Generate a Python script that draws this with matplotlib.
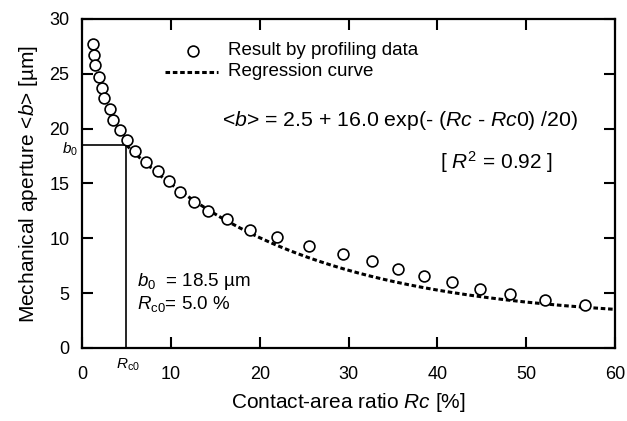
import numpy as np
import matplotlib
matplotlib.use("Agg")
import matplotlib.pyplot as plt

plt.rcParams['font.family'] = ['Liberation Sans', 'DejaVu Sans']
plt.rcParams['mathtext.fontset'] = 'custom'
plt.rcParams['mathtext.rm'] = 'Liberation Sans'
plt.rcParams['mathtext.it'] = 'Liberation Sans:italic'
plt.rcParams['mathtext.bf'] = 'Liberation Sans:bold'

rc_data = [1.2, 1.35, 1.5, 1.9, 2.2, 2.5, 3.1, 3.5, 4.3, 5.1, 6.0, 7.2, 8.5, 9.8,
           11.0, 12.6, 14.2, 16.3, 18.9, 21.9, 25.6, 29.4, 32.6, 35.6, 38.5,
           41.6, 44.8, 48.2, 52.1, 56.6]
b_data = [27.7, 26.7, 25.8, 24.7, 23.7, 22.8, 21.8, 20.8, 19.9, 19.0, 18.0, 17.0,
          16.1, 15.2, 14.2, 13.3, 12.5, 11.8, 10.8, 10.1, 9.3, 8.6, 7.9, 7.2,
          6.6, 6.0, 5.4, 4.9, 4.4, 3.9]

# Regression parameters (shown in chart)
b_inf = 2.5
amp = 16.0
rc0 = 5.0
scale = 20.0
b0 = 18.5
rc_curve = np.linspace(rc0, 60, 200)
b_curve = b_inf + amp * np.exp(-(rc_curve - rc0) / scale)

xticks = [0, 10, 20, 30, 40, 50, 60]
yticks = [0, 5, 10, 15, 20, 25, 30]

fig = plt.figure(figsize=(6.27, 4.21), dpi=100)
ax = fig.add_axes([0.1308, 0.1734, 0.981 - 0.1308, 0.9549 - 0.1734])

dash = (0, (1.5, 0.9))
ax.plot(rc_curve, b_curve, color='black', lw=2.2, linestyle=dash, zorder=2)
ax.plot(rc_data, b_data, 'o', mfc='white', mec='black', ms=7.8, mew=1.2, zorder=3)

ax.plot([rc0, rc0], [0, b0], color='black', lw=1.2, zorder=1)
ax.plot([0, rc0], [b0, b0], color='black', lw=1.2, zorder=1)

ax.set_xlim(0, 60)
ax.set_ylim(0, 30)
ax.set_xticks(xticks)
ax.set_yticks(yticks)
ax.tick_params(direction='in', length=8, width=1.5, top=True, right=True,
               labelsize=13)
ax.tick_params(axis='x', pad=13)
ax.tick_params(axis='y', pad=9)
for s in ax.spines.values():
    s.set_linewidth(1.6)

ax.set_xlabel(r'Contact-area ratio $\mathit{Rc}$ [%]', fontsize=15)
ax.set_ylabel(r'Mechanical aperture <$\mathit{b}$> [µm]', fontsize=15)
ax.xaxis.set_label_coords(0.5, -0.165)
ax.yaxis.set_label_coords(-0.1, 0.5)
ax.xaxis.label.set_va('center')
ax.yaxis.label.set_va('center')

# legend (manual)
ax.plot([12.5], [27.1], 'o', mfc='white', mec='black', ms=7.8, mew=1.2)
ax.text(16.4, 27.1, 'Result by profiling data', fontsize=13.5, va='center', ha='left')
ax.plot([9.3, 15.3], [25.2, 25.2], color='black', lw=2.2, linestyle=dash)
ax.text(16.4, 25.2, 'Regression curve', fontsize=13.5, va='center', ha='left')

ax.text(15.8, 20.7, r'<$\mathit{b}$> = 2.5 + 16.0 exp(- ($\mathit{Rc}$ - $\mathit{Rc}$0) /20)',
        fontsize=15.3, va='center', ha='left')
ax.text(40.3, 17.0, r'[ $\mathit{R}^2$ = 0.92 ]', fontsize=15, va='center', ha='left')

ax.text(6.2, 6.1, r'$\mathit{b}_0$  = 18.5 µm', fontsize=13.5, va='center', ha='left')
ax.text(6.2, 4.0, r'$\mathit{R}_{\mathrm{c0}}$= 5.0 %', fontsize=13.5, va='center', ha='left')

ax.text(-2.2, 18.1, r'$\mathit{b}_0$', fontsize=11, va='center', ha='left', clip_on=False)
ax.text(rc0 + 0.2, -1.5, r'$\mathit{R}_{\mathrm{c0}}$', fontsize=11, va='center', ha='center',
        clip_on=False)

fig.savefig('out.png', dpi=100)
